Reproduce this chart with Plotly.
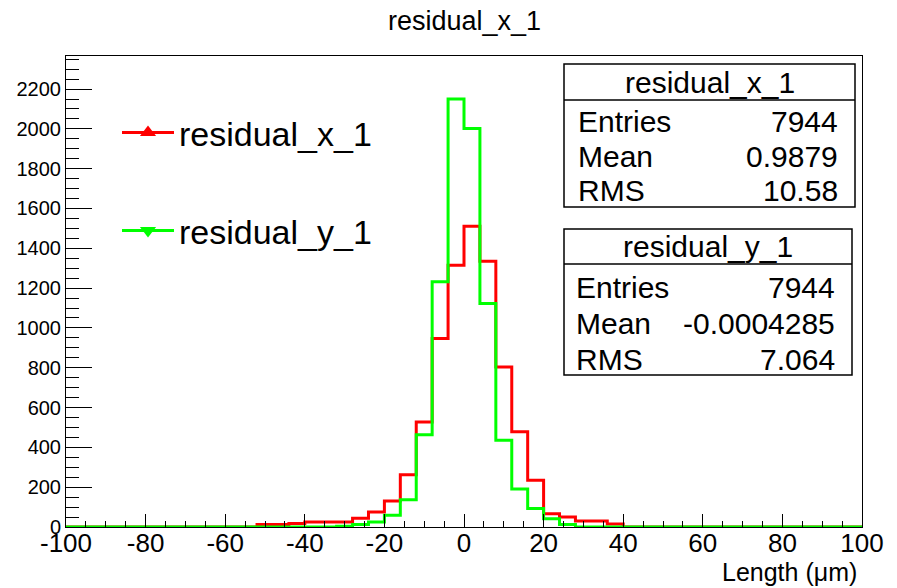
import numpy as np
import plotly.graph_objects as go

# Histogram binning: 50 bins of width 4 over [-100, 100]
bin_edges = np.arange(-100, 101, 4)

# Bin contents (counts per bin, left to right)
counts_x = [0, 0, 0, 0, 0, 0, 0, 0, 0, 0, 0, 0,
            13, 13, 17, 25, 25, 25, 44, 75, 131, 262, 528, 947,
            1315, 1511, 1335, 804, 478, 235, 67, 50, 30, 30, 15,
            0, 0, 0, 0, 0, 0, 0, 0, 0, 0, 0, 0, 0, 0, 0]
counts_y = [0, 0, 0, 0, 0, 0, 0, 0, 0, 0, 0, 0,
            0, 0, 0, 0, 0, 4, 13, 25, 59, 137, 464, 1232,
            2150, 2002, 1123, 436, 191, 93, 42, 13, 0, 0, 0,
            0, 0, 0, 0, 0, 0, 0, 0, 0, 0, 0, 0, 0, 0, 0]

name_x = "residual_x_1"
name_y = "residual_y_1"
stats_x = [("Entries", "7944"), ("Mean", "0.9879"), ("RMS", "10.58")]
stats_y = [("Entries", "7944"), ("Mean", "-0.0004285"), ("RMS", "7.064")]

x_ticks = list(range(-100, 101, 20))
y_ticks = list(range(0, 2201, 200))

FONT = "Liberation Sans, Arial, Helvetica, sans-serif"
W, H = 897, 588
ML, MR, MT, MB = 66, 35, 56, 61
PW, PH = W - ML - MR, H - MT - MB


def step_xy(counts):
    xs = list(bin_edges)
    ys = list(counts) + [counts[-1]]
    return xs, ys


fig = go.Figure()
for counts, color in ((counts_x, "#ff0000"), (counts_y, "#00ff00")):
    xs, ys = step_xy(counts)
    fig.add_trace(go.Scatter(x=xs, y=ys, mode="lines", line_shape="hv",
                             line=dict(color=color, width=3),
                             showlegend=False, hoverinfo="skip"))

# Legend entries (one legend box per histogram)
fig.add_trace(go.Scatter(x=[None], y=[None], mode="lines+markers", name=name_x,
                         line=dict(color="#ff0000", width=3),
                         marker=dict(symbol="triangle-up", size=14, color="#ff0000"),
                         legend="legend"))
fig.add_trace(go.Scatter(x=[None], y=[None], mode="lines+markers", name=name_y,
                         line=dict(color="#00ff00", width=3),
                         marker=dict(symbol="triangle-down", size=14, color="#00ff00"),
                         legend="legend2"))


def px_to_paper_x(px):
    return (px - ML) / PW


def px_to_paper_y(py):
    return (H - MB - py) / PH


shapes = []
annotations = []
STAT_SIZE = 30


def stats_box(x0, x1, y0, y1, yline, title, rows, row_y, label_x, value_x):
    shapes.append(dict(type="rect", xref="paper", yref="paper",
                       x0=px_to_paper_x(x0), x1=px_to_paper_x(x1),
                       y0=px_to_paper_y(y1), y1=px_to_paper_y(y0),
                       line=dict(color="black", width=1.5), fillcolor="white",
                       layer="above"))
    shapes.append(dict(type="line", xref="paper", yref="paper",
                       x0=px_to_paper_x(x0), x1=px_to_paper_x(x1),
                       y0=px_to_paper_y(yline), y1=px_to_paper_y(yline),
                       line=dict(color="black", width=1.5), layer="above"))
    annotations.append(dict(text=title, xref="paper", yref="paper",
                            x=px_to_paper_x((x0 + x1) / 2), y=px_to_paper_y((y0 + yline) / 2),
                            xanchor="center", yanchor="middle", showarrow=False,
                            font=dict(family=FONT, size=STAT_SIZE, color="black")))
    for (lab, val), ry in zip(rows, row_y):
        annotations.append(dict(text=lab, xref="paper", yref="paper",
                                x=px_to_paper_x(label_x), y=px_to_paper_y(ry),
                                xanchor="left", yanchor="middle", showarrow=False,
                                font=dict(family=FONT, size=STAT_SIZE, color="black")))
        annotations.append(dict(text=val, xref="paper", yref="paper",
                                x=px_to_paper_x(value_x), y=px_to_paper_y(ry),
                                xanchor="right", yanchor="middle", showarrow=False,
                                font=dict(family=FONT, size=STAT_SIZE, color="black")))


stats_box(564, 855, 64, 207, 100, name_x, stats_x, [122, 157, 190], 576, 840)
stats_box(564, 852, 229, 375, 264, name_y, stats_y, [287, 323, 359], 574, 837)

# Title and axis label
annotations.append(dict(text=name_x, xref="paper", yref="paper",
                        x=0.5, y=px_to_paper_y(21), xanchor="center", yanchor="middle",
                        showarrow=False, font=dict(family=FONT, size=27, color="black")))
annotations.append(dict(text="Length (\u03bcm)", xref="paper", yref="paper",
                        x=px_to_paper_x(859), y=px_to_paper_y(572), xanchor="right",
                        yanchor="middle", showarrow=False,
                        font=dict(family=FONT, size=25, color="black")))

legend_common = dict(bgcolor="rgba(0,0,0,0)", borderwidth=0,
                     font=dict(family=FONT, size=34, color="black"),
                     xanchor="left", yanchor="middle", itemwidth=52)

fig.update_layout(
    width=W, height=H,
    margin=dict(l=ML, r=MR, t=MT, b=MB),
    paper_bgcolor="white", plot_bgcolor="white",
    showlegend=True,
    legend=dict(x=px_to_paper_x(117), y=px_to_paper_y(133), **legend_common),
    legend2=dict(x=px_to_paper_x(117), y=px_to_paper_y(231), **legend_common),
    shapes=shapes, annotations=annotations,
    xaxis=dict(range=[-100, 100], tickvals=x_ticks, ticktext=[str(v) for v in x_ticks],
               ticks="inside", ticklen=13, tickwidth=1, tickcolor="black",
               ticklabelstandoff=-7,
               minor=dict(dtick=5, tick0=0, ticks="inside", ticklen=6, tickcolor="black",
                          showgrid=False),
               showline=True, linecolor="black", linewidth=1, mirror=True,
               showgrid=False, zeroline=False,
               tickfont=dict(family=FONT, size=26, color="black")),
    yaxis=dict(range=[0, 2366], tickvals=y_ticks, ticktext=[str(v) for v in y_ticks],
               ticks="inside", ticklen=26, tickwidth=1, tickcolor="black",
               minor=dict(dtick=50, tick0=0, ticks="inside", ticklen=13, tickcolor="black",
                          showgrid=False),
               showline=True, linecolor="black", linewidth=1, mirror=True,
               showgrid=False, zeroline=False,
               tickfont=dict(family=FONT, size=20, color="black")),
)

fig.write_html("out.html")
